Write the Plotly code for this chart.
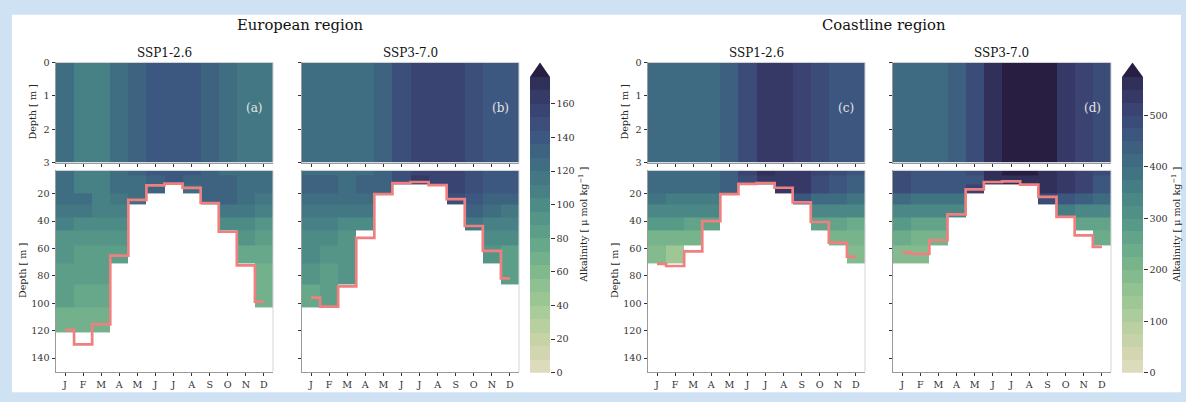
import numpy as np
import plotly.graph_objects as go

W, H = 1186, 402

months = ["J", "F", "M", "A", "M", "J", "J", "A", "S", "O", "N", "D"]
surface_edges = [0, 3]
depth_edges = [3, 7, 13, 20, 28, 37, 47, 58, 71, 86, 103, 121, 140, 160]

# Surface-layer alkalinity [µmol/kg], one value per month
eu_ssp126_surf = [124, 110, 110, 122, 133, 140, 141, 140, 133, 121, 119, 119]
eu_ssp370_surf = [124, 124, 124, 124, 132, 146, 158, 158, 152, 147, 139, 139]
co_ssp126_surf = [405, 405, 405, 405, 435, 490, 532, 532, 512, 490, 470, 452]
co_ssp370_surf = [410, 410, 410, 425, 478, 560, 590, 590, 575, 540, 515, 485]

# Monthly alkalinity profiles below 3 m, downward to the last valid level
eu_ssp126 = [
    [124, 126, 126, 122, 116, 104, 92, 88, 86, 84, 66],
    [110, 110, 110, 120, 112, 100, 92, 80, 80, 78, 64],
    [108, 108, 108, 104, 104, 98, 92, 80, 80, 76, 64],
    [122, 122, 122, 112, 104, 96, 88, 82],
    [134, 126, 126, 120],
    [140, 130, 130],
    [142, 136],
    [140, 134, 124],
    [134, 134, 134, 128],
    [126, 132, 132, 130, 116, 100],
    [120, 122, 122, 122, 112, 100, 90, 78],
    [120, 120, 120, 114, 104, 94, 84, 76, 70, 66],
]
eu_ssp370 = [
    [126, 134, 134, 126, 114, 104, 98, 96, 92, 76],
    [124, 128, 128, 124, 114, 106, 96, 90, 86, 80],
    [126, 126, 126, 124, 114, 100, 94, 90, 88],
    [126, 128, 128, 124, 114, 102],
    [133, 132, 130],
    [146, 148],
    [158, 166],
    [158, 158],
    [152, 152, 152, 150],
    [147, 146, 146, 140, 128, 116],
    [140, 142, 142, 134, 124, 110, 102, 92],
    [140, 140, 140, 130, 118, 104, 96, 86, 84],
]
co_ssp126 = [
    [410, 410, 410, 392, 340, 281, 222, 183],
    [410, 410, 410, 366, 333, 275, 216, 130],
    [410, 410, 410, 366, 333, 268, 203],
    [410, 410, 410, 366, 333, 262],
    [440, 445, 445],
    [505, 490],
    [555, 540],
    [548, 530, 525],
    [540, 525, 525, 450],
    [510, 485, 485, 410, 340, 262],
    [488, 470, 470, 410, 333, 268, 216],
    [458, 438, 438, 380, 327, 242, 222, 183],
]
co_ssp370 = [
    [478, 478, 478, 400, 333, 275, 229, 196],
    [450, 450, 450, 380, 333, 262, 216, 196],
    [450, 450, 450, 380, 333, 250, 216],
    [458, 458, 458, 380, 340],
    [485, 465, 500],
    [560, 550],
    [590, 570],
    [585, 565],
    [570, 550, 550, 478],
    [540, 535, 535, 458, 360],
    [515, 510, 510, 430, 340, 250],
    [485, 470, 470, 400, 340, 262, 229],
]

# Mixed layer depth [m]
mld_eu_ssp126 = [119.5, 130, 115.5, 65.3, 24.5, 14, 12.7, 15.8, 26.8, 47.8, 72.4, 98.8]
mld_eu_ssp370 = [95.9, 102.5, 87.7, 52.3, 20.4, 12.2, 11.5, 13.8, 24, 43.6, 61.7, 81.8]
mld_co_ssp126 = [71.2, 72.8, 62.2, 40, 20.4, 12.9, 12.2, 15.7, 26.3, 40.7, 55.8, 66]
mld_co_ssp370 = [62.9, 63.9, 54, 35.1, 16.9, 11.5, 11, 13.4, 22.3, 37, 50.4, 58.9]

cbar_eu_ticks = [0, 20, 40, 60, 80, 100, 120, 140, 160]
cbar_co_ticks = [0, 100, 200, 300, 400, 500]

# ---- colour map (light sand -> green -> teal -> navy), sampled at 22 band centres ----
cmap_colors = [
    "#dcdcbc", "#d2d6b0", "#c5d3a7", "#b8cf9f", "#aacb9a", "#9cc594",
    "#8ec091", "#7fb98c", "#72b18b", "#67a88a", "#5d9e88", "#549587",
    "#4d8b86", "#478185", "#427783", "#3f6d82", "#3d6381", "#3d5880",
    "#3c4e7a", "#3a4472", "#363a67", "#30305a",
]
over_color = "#281e42"


def hex2rgb(h):
    h = h.lstrip("#")
    return np.array([int(h[i:i + 2], 16) for i in (0, 2, 4)], float)


_pos = [(k + 0.5) / len(cmap_colors) for k in range(len(cmap_colors))]
_rgb = np.array([hex2rgb(c) for c in cmap_colors])


def cmap(t):
    rgb = [np.interp(t, _pos, _rgb[:, i]) for i in range(3)]
    return "rgb(%d,%d,%d)" % tuple(int(round(v)) for v in rgb)


def band_scale(n_bands):
    total = n_bands + 1
    cs = []
    for k in range(total):
        c = cmap((k + 0.5) / n_bands) if k < n_bands else over_color
        cs.append([k / total, c])
        cs.append([(k + 1) / total, c])
    return cs


EU_STEP, EU_N = 8, 22      # levels 0..176
CO_STEP, CO_N = 25, 23     # levels 0..575
eu_scale = band_scale(EU_N)
co_scale = band_scale(CO_N)


def to_grid(profiles):
    nrow = len(depth_edges) - 1
    z = [[None] * 12 for _ in range(nrow)]
    for m, prof in enumerate(profiles):
        for r, v in enumerate(prof):
            z[r][m] = v
    return z


def fx(px):
    return px / W


def fy(py):
    return 1 - py / H


fig = go.Figure()
font_family = "DejaVu Serif"
tick_font = dict(family=font_family, size=9.6, color="#333333")

panels = [
    ("a", "SSP1-2.6", 56, 273, eu_ssp126_surf, eu_ssp126, mld_eu_ssp126, eu_scale, (EU_N + 1) * EU_STEP, True),
    ("b", "SSP3-7.0", 302, 519, eu_ssp370_surf, eu_ssp370, mld_eu_ssp370, eu_scale, (EU_N + 1) * EU_STEP, False),
    ("c", "SSP1-2.6", 648, 865, co_ssp126_surf, co_ssp126, mld_co_ssp126, co_scale, (CO_N + 1) * CO_STEP, True),
    ("d", "SSP3-7.0", 893, 1111, co_ssp370_surf, co_ssp370, mld_co_ssp370, co_scale, (CO_N + 1) * CO_STEP, False),
]
TOP = (58, 161)
BOT = (169, 376)
month_edges = [i - 0.5 for i in range(13)]
month_pos = list(range(12))

ax_id = 0
shapes = []
annotations = []


def axis_names(i):
    return ("x" if i == 1 else "x%d" % i), ("y" if i == 1 else "y%d" % i)


def axkey(kind, i):
    return kind + ("axis" if i == 1 else "axis%d" % i)


for label, scen, x0, x1, surf, prof, mld, cs, zmax, show_ylab in panels:
    for part, (ya, yb) in (("top", TOP), ("bot", BOT)):
        ax_id += 1
        xn, yn = axis_names(ax_id)
        if part == "top":
            ye, z = surface_edges, [surf]
        else:
            ye, z = depth_edges, to_grid(prof)
        fig.add_trace(go.Heatmap(
            x=month_edges, y=ye, z=z, colorscale=cs, zmin=0, zmax=zmax,
            showscale=False, xaxis=xn, yaxis=yn, hoverongaps=False,
        ))
        if part == "bot":
            fig.add_trace(go.Scatter(
                x=month_pos, y=mld, mode="lines", line=dict(color="#f08080", width=2.7, shape="hvh"),
                xaxis=xn, yaxis=yn, showlegend=False,
            ))
        xa = dict(
            domain=[fx(x0), fx(x1)], anchor=yn, range=[-0.5, 11.5],
            tickvals=month_pos, ticktext=months, showticklabels=(part == "bot"),
            ticks="outside", ticklen=3.5, tickwidth=0.8, tickcolor="#333333",
            tickfont=tick_font, showgrid=False, zeroline=False,
            showline=True, linecolor="#9a9a9a", linewidth=1, fixedrange=True,
        )
        if part == "top":
            ya_rng, tv = [3, 0], [0, 1, 2, 3]
        else:
            ya_rng, tv = [150, 3], [20, 40, 60, 80, 100, 120, 140]
        yaxd = dict(
            domain=[fy(yb), fy(ya)], anchor=xn, range=ya_rng, tickvals=tv,
            showticklabels=show_ylab, ticks="outside", ticklen=3.5, tickwidth=0.8,
            tickcolor="#333333", tickfont=tick_font, showgrid=False, zeroline=False,
            showline=True, linecolor="#9a9a9a", linewidth=1, fixedrange=True,
        )
        fig.update_layout({axkey("x", ax_id): xa, axkey("y", ax_id): yaxd})
        # light top / right frame
        shapes.append(dict(type="line", xref="paper", yref="paper", x0=fx(x0), x1=fx(x1),
                           y0=fy(ya), y1=fy(ya), line=dict(color="#d4d4d4", width=1)))
        shapes.append(dict(type="line", xref="paper", yref="paper", x0=fx(x1), x1=fx(x1),
                           y0=fy(ya), y1=fy(yb), line=dict(color="#d4d4d4", width=1)))
        if show_ylab:
            lx = x0 - (23 if part == "top" else 34)
            annotations.append(dict(
                text="Depth [ m ]", x=fx(lx), y=fy((ya + yb) / 2), xref="paper", yref="paper",
                showarrow=False, textangle=-90, xanchor="center", yanchor="middle",
                font=dict(family=font_family, size=9.6, color="#222222"),
            ))
    # panel letter in the surface panel
    annotations.append(dict(
        text="(%s)" % label, x=fx(x1 - 19), y=fy(105), xref="paper", yref="paper",
        showarrow=False, xanchor="center", yanchor="middle",
        font=dict(family=font_family, size=12, color="#e6e6e6"),
    ))
    annotations.append(dict(
        text=scen, x=fx((x0 + x1) / 2), y=fy(48), xref="paper", yref="paper", showarrow=False,
        xanchor="center", yanchor="middle", font=dict(family=font_family, size=12, color="#111111"),
    ))

# ---- colour bars with an extension arrow ----
CB_TOP, CB_BOT, CB_TIP = 73, 377, 58
for cx0, cx1, step, n, cs, ticks in (
    (530, 550, EU_STEP, EU_N, eu_scale, cbar_eu_ticks),
    (1122, 1143, CO_STEP, CO_N, co_scale, cbar_co_ticks),
):
    ax_id += 1
    xn, yn = axis_names(ax_id)
    top_val = n * step
    tip_val = top_val * (CB_BOT - CB_TIP) / (CB_BOT - CB_TOP)
    edges = [k * step for k in range(n + 1)]
    fig.add_trace(go.Heatmap(
        x=[0, 1], y=edges, z=[[(k + 0.5) * step] for k in range(n)], colorscale=cs,
        zmin=0, zmax=(n + 1) * step, showscale=False, xaxis=xn, yaxis=yn,
    ))
    fig.add_trace(go.Scatter(
        x=[0, 1, 0.5, 0], y=[top_val, top_val, tip_val, top_val], fill="toself",
        fillcolor=over_color, mode="lines", line=dict(width=0, color=over_color),
        xaxis=xn, yaxis=yn, showlegend=False,
    ))
    fig.update_layout({
        axkey("x", ax_id): dict(domain=[fx(cx0), fx(cx1)], anchor=yn, range=[0, 1],
                                visible=False, fixedrange=True),
        axkey("y", ax_id): dict(domain=[fy(CB_BOT), fy(CB_TIP)], anchor=xn, range=[0, tip_val],
                                side="right", tickvals=ticks, ticks="outside", ticklen=3.5,
                                tickwidth=0.8, tickcolor="#333333", tickfont=tick_font,
                                showgrid=False, zeroline=False, showline=False, fixedrange=True),
    })
    annotations.append(dict(
        text="Alkalinity [ \u03bc mol kg<sup>\u22121</sup> ]", x=fx(cx1 + 33), y=fy(225),
        xref="paper", yref="paper", showarrow=False, textangle=-90,
        xanchor="center", yanchor="middle", font=dict(family=font_family, size=9.6, color="#222222"),
    ))

for txt, cx in (("European region", 300), ("Coastline region", 884)):
    annotations.append(dict(
        text=txt, x=fx(cx), y=fy(19), xref="paper", yref="paper", showarrow=False,
        xanchor="center", yanchor="middle", font=dict(family=font_family, size=14.8, color="#111111"),
    ))

# page frame
shapes.insert(0, dict(type="rect", xref="paper", yref="paper", x0=fx(12), x1=fx(1181),
                      y0=fy(397), y1=fy(9), fillcolor="white", line=dict(width=0), layer="below"))

fig.update_layout(
    width=W, height=H, margin=dict(l=0, r=0, t=0, b=0),
    paper_bgcolor="#cfe2f3", plot_bgcolor="white", showlegend=False,
    shapes=shapes, annotations=annotations,
)

fig.write_html("out.html")
